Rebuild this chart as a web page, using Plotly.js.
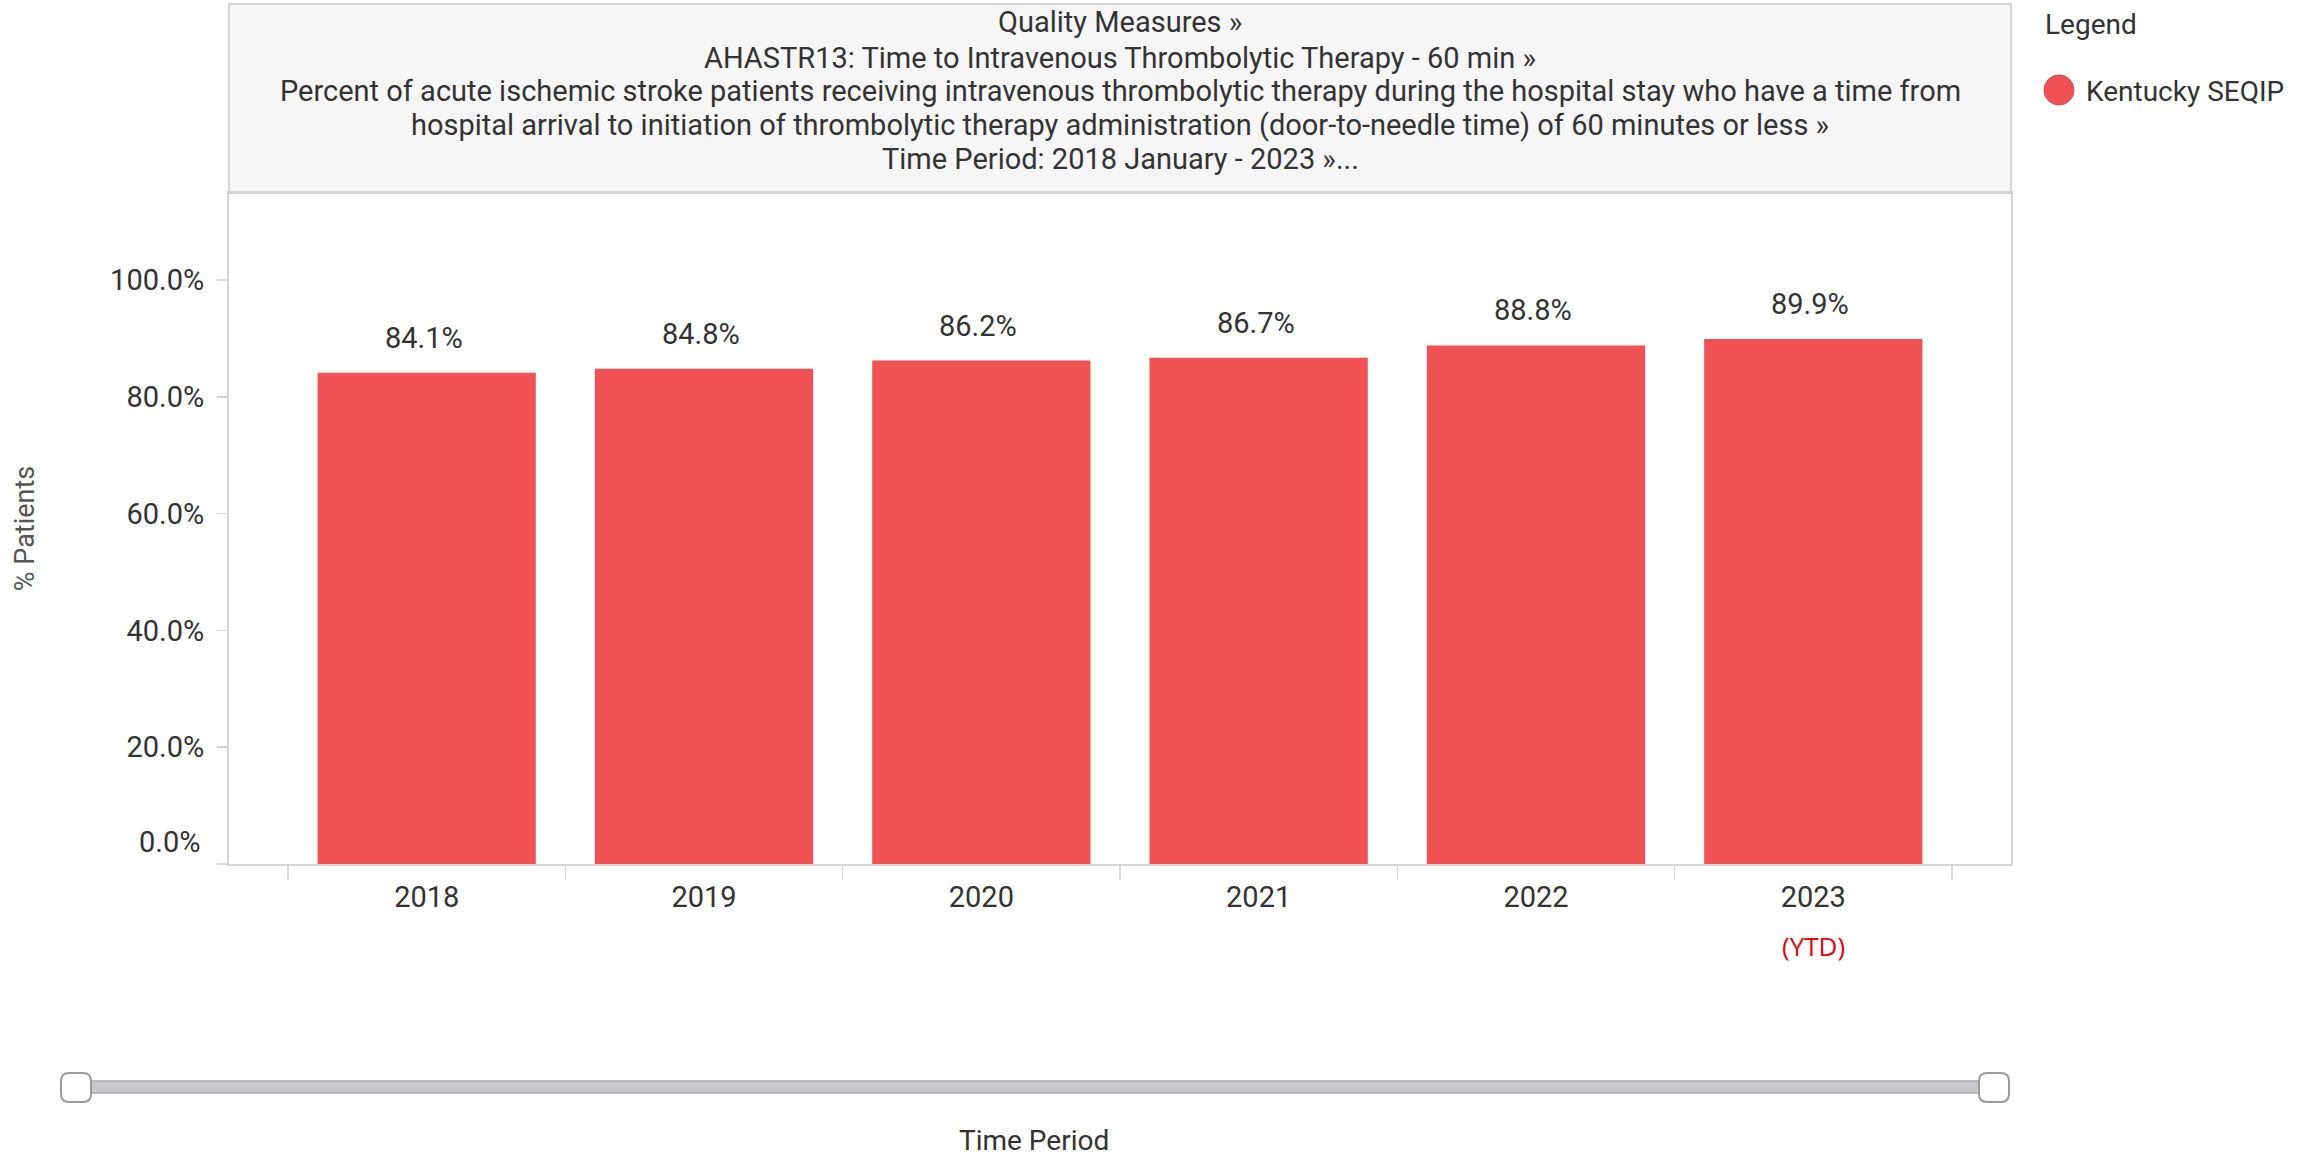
<!DOCTYPE html>
<html>
<head>
<meta charset="utf-8">
<script src="https://cdn.plot.ly/plotly-3.0.1.min.js"></script>
<style>html,body{margin:0;padding:0;background:#fff;}#chart{width:2313px;height:1158px;}</style>
</head>
<body>
<div id="chart"></div>
<script>
// ---- data ----
var years = ["2018", "2019", "2020", "2021", "2022", "2023"];
var values = [84.1, 84.8, 86.2, 86.7, 88.8, 89.9];
var valueLabels = ["84.1%", "84.8%", "86.2%", "86.7%", "88.8%", "89.9%"];
var yTickVals = [0, 20, 40, 60, 80, 100];
var yTickText = ["", "20.0%", "40.0%", "60.0%", "80.0%", "100.0%"];
var seriesName = "Kentucky SEQIP";
var titleLines = [
  "Quality Measures »",
  "AHASTR13: Time to Intravenous Thrombolytic Therapy - 60 min »",
  "Percent of acute ischemic stroke patients receiving intravenous thrombolytic therapy during the hospital stay who have a time from",
  "hospital arrival to initiation of thrombolytic therapy administration (door-to-needle time) of 60 minutes or less »",
  "Time Period: 2018 January - 2023 »..."
];

var FONT = "Roboto, 'Open Sans', Arial, sans-serif";
var BAR = "#f05152";
var TXT = "#333333";
var GRID = "#d6d6d9";
var FS = 29;

function px(x) { return (x - 229) / 1782; }
function py(y) { return (864 - y) / 671; }

var traces = [
  {
    type: "bar",
    x: years,
    y: values,
    marker: {color: BAR},
    showlegend: false,
    hoverinfo: "x+y"
  },
  {
    type: "scatter",
    mode: "markers",
    x: [null],
    y: [null],
    name: seriesName,
    marker: {color: BAR, size: 16, symbol: "circle"},
    showlegend: true,
    hoverinfo: "skip"
  }
];

var annotations = [];
// bar value labels (category index from the data arrays)
years.forEach(function (yr, i) {
  annotations.push({
    x: i, y: values[i], xref: "x", yref: "y",
    text: valueLabels[i], showarrow: false,
    xanchor: "center", yanchor: "middle", yshift: 35, xshift: -3,
    font: {family: FONT, size: FS, color: TXT}
  });
});
// title lines
var titleY = [22, 57.5, 91.5, 125, 159];
titleLines.forEach(function (t, i) {
  annotations.push({
    x: 0.5, y: py(titleY[i]), xref: "paper", yref: "paper",
    text: t, showarrow: false, xanchor: "center", yanchor: "middle",
    font: {family: FONT, size: FS, color: TXT}
  });
});
annotations.push({
  x: 0, y: 0, xref: "paper", yref: "y", text: "0.0%", showarrow: false,
  xanchor: "right", yanchor: "middle", xshift: -27, yshift: 22,
  font: {family: FONT, size: FS, color: TXT}
});
annotations.push({
  x: years.length - 1, y: py(946), xref: "x", yref: "paper", text: "(YTD)", showarrow: false,
  xanchor: "center", yanchor: "middle",
  font: {family: "'Open Sans', Arial, sans-serif", size: 26, color: "#e8000b"}
});
annotations.push({
  x: px(1034), y: py(1140), xref: "paper", yref: "paper",
  text: "Time Period", showarrow: false, xanchor: "center", yanchor: "middle",
  borderpad: 0,
  font: {family: FONT, size: 28, color: TXT}
});
annotations.push({
  x: px(2043), y: py(25), xref: "paper", yref: "paper",
  text: "Legend", showarrow: false, xanchor: "left", yanchor: "middle",
  font: {family: FONT, size: 28, color: TXT}
});

function roundedRect(w, h, r) {
  var x0 = -w / 2, x1 = w / 2, y0 = -h / 2, y1 = h / 2;
  return "M" + (x0 + r) + "," + y0 + " H" + (x1 - r) + " Q" + x1 + "," + y0 + " " + x1 + "," + (y0 + r) +
    " V" + (y1 - r) + " Q" + x1 + "," + y1 + " " + (x1 - r) + "," + y1 +
    " H" + (x0 + r) + " Q" + x0 + "," + y1 + " " + x0 + "," + (y1 - r) +
    " V" + (y0 + r) + " Q" + x0 + "," + y0 + " " + (x0 + r) + "," + y0 + " Z";
}

var shapes = [
  // title box
  {type: "rect", xref: "paper", yref: "paper", x0: 0, x1: 1, y0: 1, y1: py(4),
   fillcolor: "#f6f6f6", line: {color: GRID, width: 2}, layer: "below"},
  // slider track
  {type: "rect", xref: "paper", yref: "paper", x0: px(80), x1: px(1990), y0: py(1081), y1: py(1093),
   fillcolor: "#c8c9cc", line: {color: "#a9aaad", width: 1.5}},
  // slider handles
  {type: "path", xref: "paper", yref: "paper", xsizemode: "pixel", ysizemode: "pixel",
   xanchor: px(76), yanchor: py(1087.5), path: roundedRect(30, 29, 8),
   fillcolor: "#ffffff", line: {color: "#9a9a9a", width: 2}},
  {type: "path", xref: "paper", yref: "paper", xsizemode: "pixel", ysizemode: "pixel",
   xanchor: px(1994), yanchor: py(1087.5), path: roundedRect(30, 29, 8),
   fillcolor: "#ffffff", line: {color: "#9a9a9a", width: 2}},
  // enlarged legend dot
  {type: "circle", xref: "paper", yref: "paper", xsizemode: "pixel", ysizemode: "pixel",
   xanchor: px(2059), yanchor: py(90), x0: -15, x1: 15, y0: -15, y1: 15,
   fillcolor: BAR, line: {color: "#e04546", width: 1}}
];

var layout = {
  width: 2313, height: 1158,
  margin: {l: 229, r: 302, t: 193, b: 294, pad: 0},
  paper_bgcolor: "#ffffff", plot_bgcolor: "#ffffff",
  font: {family: FONT, size: FS, color: TXT},
  bargap: 0.213,
  xaxis: {
    type: "category",
    range: [-0.713, 5.713],
    showline: true, linecolor: GRID, linewidth: 2, mirror: true,
    ticks: "outside", tickson: "boundaries", ticklen: 14, tickcolor: GRID, tickwidth: 1.5,
    ticklabelstandoff: 6,
    showgrid: false, zeroline: false,
    tickfont: {family: FONT, size: FS, color: TXT},
    fixedrange: true
  },
  yaxis: {
    range: [0, 114.9],
    tickvals: yTickVals, ticktext: yTickText,
    showline: true, linecolor: GRID, linewidth: 2, mirror: true,
    ticks: "outside", ticklen: 10, tickcolor: GRID, tickwidth: 1.5,
    ticklabelstandoff: 7,
    showgrid: false, zeroline: false,
    tickfont: {family: FONT, size: FS, color: TXT},
    title: {text: "% Patients", standoff: 68, font: {family: FONT, size: 27, color: "#555555"}},
    fixedrange: true
  },
  legend: {
    x: px(2046), xanchor: "left",
    y: py(90), yanchor: "middle",
    font: {family: FONT, size: 28, color: TXT},
    bgcolor: "rgba(0,0,0,0)"
  },
  annotations: annotations,
  shapes: shapes,
  showlegend: true
};

Plotly.newPlot("chart", traces, layout, {displayModeBar: false, staticPlot: true});
</script>
</body>
</html>
